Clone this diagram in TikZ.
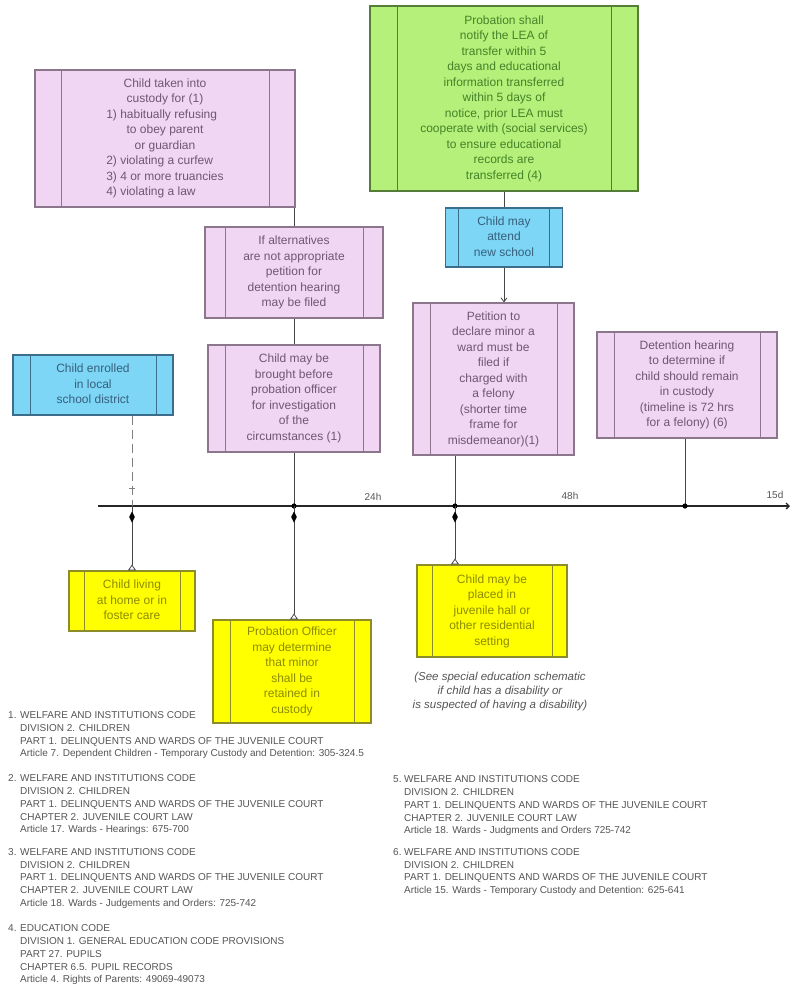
\documentclass[tikz,border=0pt]{standalone}
\usepackage{fontspec}
\setmainfont{Liberation Sans}
\usetikzlibrary{arrows.meta,decorations.markings}
\definecolor{pinkF}{RGB}{240,214,242}
\definecolor{pinkD}{RGB}{140,118,140}
\definecolor{pinkT}{RGB}{115,85,115}
\definecolor{greenF}{RGB}{180,240,122}
\definecolor{greenD}{RGB}{85,125,55}
\definecolor{greenT}{RGB}{70,130,40}
\definecolor{blueF}{RGB}{125,214,245}
\definecolor{blueD}{RGB}{60,110,140}
\definecolor{blueT}{RGB}{55,95,125}
\definecolor{yelF}{RGB}{255,255,0}
\definecolor{yelD}{RGB}{140,140,40}
\definecolor{yelT}{RGB}{140,140,0}
\definecolor{connC}{RGB}{70,70,70}
\definecolor{noteC}{RGB}{85,85,85}
\newcommand\boxfont{\fontsize{12}{15.5}\selectfont}
\newcommand\fnfont{\fontsize{10}{12.7}\selectfont}
\def\sbw{17pt}\def\sbc{black}
\tikzset{
  sidebar/.code={\def\sbw{#1pt}},
  barcol/.code={\def\sbc{#1}},
  procbox/.style={rectangle, draw, line width=1.1pt, inner sep=0pt, font=\boxfont,
    path picture={\draw[line width=0.9pt, draw=\sbc]
      ([xshift=\sbw]path picture bounding box.north west) -- ([xshift=\sbw]path picture bounding box.south west)
      ([xshift=-\sbw]path picture bounding box.north east) -- ([xshift=-\sbw]path picture bounding box.south east);}},
  pinkbox/.style={procbox, fill=pinkF, draw=pinkD, text=pinkT, barcol=pinkD},
  greenbox/.style={procbox, fill=greenF, draw=greenD, text=greenT, barcol=greenD},
  bluebox/.style={procbox, fill=blueF, draw=blueD, text=blueT, barcol=blueD},
  yelbox/.style={procbox, fill=yelF, draw=yelD, text=yelT, barcol=yelD},
  conn/.style={draw=connC, line width=0.8pt},
  lowconn/.style={conn, -{Triangle[open,reversed,length=6pt,width=8pt]},
    postaction={decorate}, decoration={markings, mark=at position 11pt with
      {\fill[black] (-5.5pt,0pt) -- (0pt,2.8pt) -- (5.5pt,0pt) -- (0pt,-2.8pt) -- cycle;}}},
  tlabel/.style={font=\fontsize{10}{12}\selectfont, text=noteC, inner sep=0pt},
  fnote/.style={font=\fnfont, text=noteC, inner sep=0pt, anchor=base west},
}
\begin{document}
\begin{tikzpicture}[x=1pt,y=-1pt]
\useasboundingbox (0,0) rectangle (794,986);
\fill[white] (0,0) rectangle (794,986);

% boxes
\node[pinkbox, sidebar=26, minimum width=260, minimum height=137] (custody) at (165,138.5)
 {\begin{tabular}{@{}l@{}}\multicolumn{1}{@{}c@{}}{Child taken into}\\ \multicolumn{1}{@{}c@{}}{custody for (1)}\\
  1) habitually refusing\\ \multicolumn{1}{@{}c@{}}{to obey parent}\\ \multicolumn{1}{@{}c@{}}{or guardian}\\
  2) violating a curfew\\ 3) 4 or more truancies\\ 4) violating a law\end{tabular}};
\node[pinkbox, sidebar=20, minimum width=178, minimum height=91] (alternatives) at (294,272.5)
 {\begin{tabular}{@{}c@{}}If alternatives\\ are not appropriate\\ petition for\\ detention hearing\\ may be filed\end{tabular}};
\node[pinkbox, sidebar=17, minimum width=172, minimum height=107] (brought) at (294,398.5)
 {\begin{tabular}{@{}c@{}}Child may be\\ brought before\\ probation officer\\ for investigation\\ of the\\ circumstances (1)\end{tabular}};
\node[bluebox, sidebar=17, minimum width=160, minimum height=60] (enrolled) at (93,385)
 {\begin{tabular}{@{}c@{}}Child enrolled\\ in local\\ school district\end{tabular}};
\node[greenbox, sidebar=27, minimum width=268, minimum height=185] (green) at (504,98.5)
 {\begin{tabular}{@{}c@{}}Probation shall\\ notify the LEA of\\ transfer within 5\\ days and educational\\ information transferred\\ within 5 days of\\ notice, prior LEA must\\ cooperate with (social services)\\ to ensure educational\\ records are\\ transferred (4)\end{tabular}};
\node[bluebox, sidebar=13, minimum width=117, minimum height=59] (attend) at (504,237.5)
 {\begin{tabular}{@{}c@{}}Child may\\ attend\\ new school\end{tabular}};
\node[pinkbox, sidebar=17, minimum width=161, minimum height=152] (petition) at (493.5,379)
 {\begin{tabular}{@{}c@{}}Petition to\\ declare minor a\\ ward must be\\ filed if\\ charged with\\ a felony\\ (shorter time\\ frame for\\ misdemeanor)(1)\end{tabular}};
\node[pinkbox, sidebar=17, minimum width=180, minimum height=106] (detention) at (687,385)
 {\begin{tabular}{@{}c@{}}Detention hearing\\ to determine if\\ child should remain\\ in custody\\ (timeline is 72 hrs\\ for a felony) (6)\end{tabular}};
\node[yelbox, sidebar=15, minimum width=126, minimum height=60] (home) at (132,601)
 {\begin{tabular}{@{}c@{}}Child living\\ at home or in\\ foster care\end{tabular}};
\node[yelbox, sidebar=17, minimum width=158, minimum height=103] (officer) at (292,671.5)
 {\begin{tabular}{@{}c@{}}Probation Officer\\ may determine\\ that minor\\ shall be\\ retained in\\ custody\end{tabular}};
\node[yelbox, sidebar=15, minimum width=150, minimum height=92] (placed) at (492,611)
 {\begin{tabular}{@{}c@{}}Child may be\\ placed in\\ juvenile hall or\\ other residential\\ setting\end{tabular}};

% timeline
\coordinate (tlA) at (98,506);
\coordinate (tlB) at (790,506);
\coordinate (t1) at (132,506);
\coordinate (t2) at (294,506);
\coordinate (t3) at (455,506);
\coordinate (t4) at (685,506);
\draw[line width=1.3pt, draw=black!85, -{Straight Barb[length=3pt,width=6pt]}] (tlA) -- (tlB);
\node[tlabel] (l24) at (373,497) {24h};
\node[tlabel] (l48) at (570,496) {48h};
\node[tlabel] (l15) at (775,495) {15d};

% upper connectors
\draw[conn] (alternatives.north |- custody.south) -- (alternatives.north);
\draw[conn] (alternatives.south) -- (brought.north);
\draw[conn] (brought.south -| t2) -- (t2);
\draw[conn] (green.south) -- (attend.south |- green.south) -- (attend.north);
\draw[conn, -{Straight Barb[length=4pt,width=6pt]}] (attend.south) -- (attend.south |- petition.north);
\draw[conn] (petition.south -| t3) -- (t3);
\draw[conn] (detention.south -| t4) -- (t4);
\draw[conn, draw=gray, dash pattern=on 9pt off 5pt, postaction={decorate},
  decoration={markings, mark=at position 73pt with {\draw[gray, line width=0.8pt] (0pt,-3pt) -- (0pt,3pt);}}]
  (enrolled.south -| t1) -- (t1);

% dots
\fill[black] (t2) circle[radius=2.6pt];
\fill[black] (t3) circle[radius=2.6pt];
\fill[black] (t4) circle[radius=2.6pt];

% lower connectors
\draw[lowconn] (t1) -- (t1 |- home.north);
\draw[lowconn] (t2) -- (t2 |- officer.north);
\draw[lowconn] (t3) -- (t3 |- placed.north);

% note
\node[font=\fontsize{11.5}{14}\selectfont\itshape, text=noteC, inner sep=0pt] (seenote) at (500,692)
 {\begin{tabular}{@{}c@{}}(See special education schematic\\ if child has a disability or\\ is suspected of having a disability)\end{tabular}};

% footnotes
\node[fnote] (fn1) at (8,718.6) {\begin{tabular}[t]{@{}p{12pt}@{}l@{}}1.&WELFARE AND INSTITUTIONS CODE\\ &DIVISION 2. CHILDREN\\ &PART 1. DELINQUENTS AND WARDS OF THE JUVENILE COURT\\ &Article 7. Dependent Children - Temporary Custody and Detention: 305-324.5\end{tabular}};
\node[fnote] (fn2) at (8,781.9) {\begin{tabular}[t]{@{}p{12pt}@{}l@{}}2.&WELFARE AND INSTITUTIONS CODE\\ &DIVISION 2. CHILDREN\\ &PART 1. DELINQUENTS AND WARDS OF THE JUVENILE COURT\\ &CHAPTER 2. JUVENILE COURT LAW\\ &Article 17. Wards - Hearings: 675-700\end{tabular}};
\node[fnote] (fn3) at (8,855.3) {\begin{tabular}[t]{@{}p{12pt}@{}l@{}}3.&WELFARE AND INSTITUTIONS CODE\\ &DIVISION 2. CHILDREN\\ &PART 1. DELINQUENTS AND WARDS OF THE JUVENILE COURT\\ &CHAPTER 2. JUVENILE COURT LAW\\ &Article 18. Wards - Judgements and Orders: 725-742\end{tabular}};
\node[fnote] (fn4) at (8,931.9) {\begin{tabular}[t]{@{}p{12pt}@{}l@{}}4.&EDUCATION CODE\\ &DIVISION 1. GENERAL EDUCATION CODE PROVISIONS\\ &PART 27. PUPILS\\ &CHAPTER 6.5. PUPIL RECORDS\\ &Article 4. Rights of Parents: 49069-49073\end{tabular}};
\node[fnote] (fn5) at (393,782.9) {\begin{tabular}[t]{@{}p{11pt}@{}l@{}}5.&WELFARE AND INSTITUTIONS CODE\\ &DIVISION 2. CHILDREN\\ &PART 1. DELINQUENTS AND WARDS OF THE JUVENILE COURT\\ &CHAPTER 2. JUVENILE COURT LAW\\ &Article 18. Wards - Judgments and Orders 725-742\end{tabular}};
\node[fnote] (fn6) at (393,855.3) {\begin{tabular}[t]{@{}p{11pt}@{}l@{}}6.&WELFARE AND INSTITUTIONS CODE\\ &DIVISION 2. CHILDREN\\ &PART 1. DELINQUENTS AND WARDS OF THE JUVENILE COURT\\ &Article 15. Wards - Temporary Custody and Detention: 625-641\end{tabular}};
\end{tikzpicture}
\end{document}
